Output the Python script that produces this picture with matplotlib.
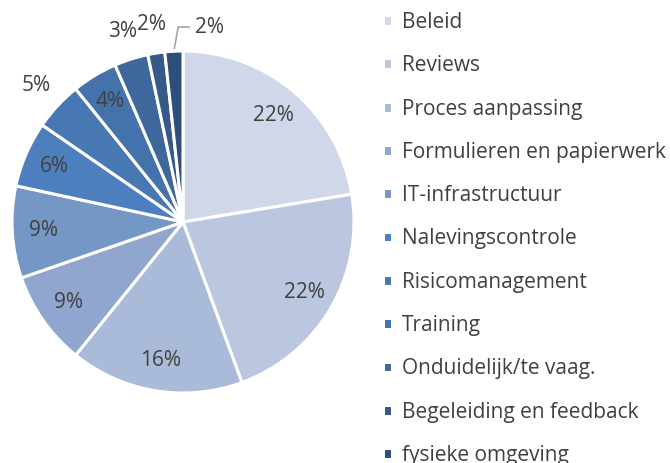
import numpy as np
import matplotlib.pyplot as plt

# shares per category (percent), clockwise from 12 o'clock
categories = ["Beleid", "Reviews", "Proces aanpassing", "Formulieren en papierwerk",
              "IT-infrastructuur", "Nalevingscontrole", "Risicomanagement", "Training",
              "Onduidelijk/te vaag.", "Begeleiding en feedback", "fysieke omgeving"]
shares = [22.4, 22.0, 16.4, 8.9, 8.7, 6.2, 4.6, 4.3, 3.2, 1.6, 1.7]
colors = ["#CFD7E8", "#BBC7E0", "#AABAD9", "#90A6CE", "#7597C6", "#4D7EBD",
          "#4878B4", "#4472AA", "#3E679B", "#37598A", "#2F4F7B"]
outside = [False, False, False, False, False, False, True, False, True, True, True]

plt.rcParams["font.family"] = ["Open Sans", "DejaVu Sans"]
txt_color = "#404040"
fs = 15

fig = plt.figure(figsize=(6.7, 4.63), dpi=100)
# pie centre around (183, 222) px, radius ~171 px
ax = fig.add_axes([12 / 670, 70 / 463, 342 / 670, 342 / 463])

wedges, _ = ax.pie(shares, colors=colors, startangle=90, counterclock=False,
                   radius=1.0, wedgeprops=dict(edgecolor="white", linewidth=2.2))
ax.set_xlim(-1, 1)
ax.set_ylim(-1, 1)
ax.set_aspect("equal")
ax.axis("off")

for i, w in enumerate(wedges):
    mid = np.deg2rad((w.theta1 + w.theta2) / 2)
    label = "%d%%" % round(shares[i])
    if i == len(wedges) - 1:
        # last slice label with leader line
        x0, y0 = np.cos(mid), np.sin(mid)
        ax.annotate(label, xy=(x0, y0), xytext=(0.07, 1.14),
                    fontsize=fs, color=txt_color, ha="left", va="center",
                    annotation_clip=False,
                    arrowprops=dict(arrowstyle="-", color="#A6A6A6", lw=1.2,
                                    connectionstyle="angle,angleA=0,angleB=80,rad=0",
                                    shrinkA=2, shrinkB=2))
        continue
    r = 1.17 if outside[i] else 0.82
    ax.text(r * np.cos(mid), r * np.sin(mid), label, fontsize=fs, color=txt_color,
            ha="center", va="center")

leg = fig.legend(wedges, categories, loc="upper left", bbox_to_anchor=(383 / 670, 1 - 12 / 463),
                 frameon=False, fontsize=fs, handlelength=0.42, handleheight=0.42,
                 handletextpad=0.5, labelspacing=1.07, borderaxespad=0, borderpad=0)
for t in leg.get_texts():
    t.set_color(txt_color)

fig.savefig("out.png", dpi=100)
